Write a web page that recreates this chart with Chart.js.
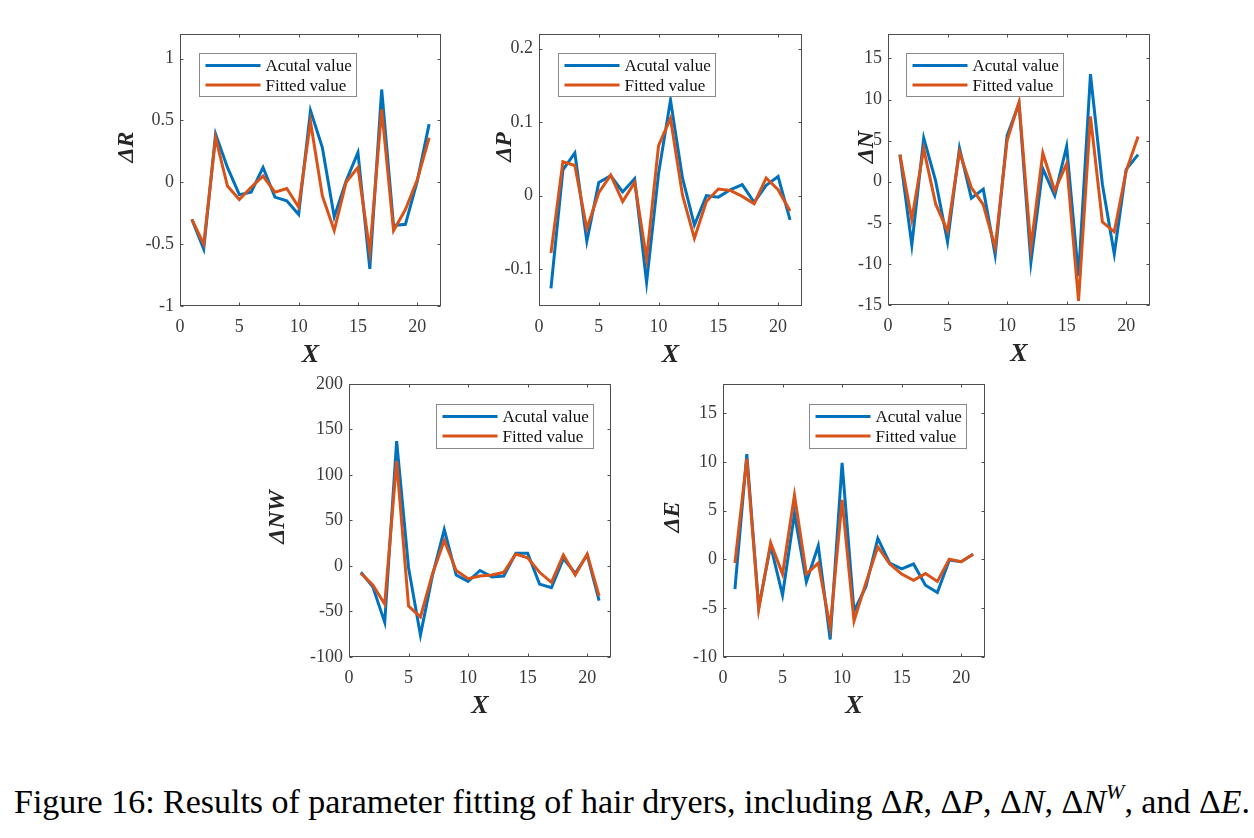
<!DOCTYPE html>
<html><head><meta charset="utf-8">
<script src="https://cdn.jsdelivr.net/npm/chart.js@4.4.1/dist/chart.umd.min.js"></script>
<style>
html,body{margin:0;padding:0;background:#fff;width:1254px;height:838px;overflow:hidden;position:relative}
canvas{position:absolute}
#cap{position:absolute;left:14px;top:783px;font-family:"Liberation Serif","Times New Roman",serif;font-size:34px;white-space:nowrap;transform-origin:0 0;color:#000}
#cap i{font-style:italic}
#cap sup{font-size:22px;line-height:0;vertical-align:14px}
</style></head><body>
<div id="cap">Figure 16: Results of parameter fitting of hair dryers, including Δ<i>R</i>, Δ<i>P</i>, Δ<i>N</i>, Δ<i>N</i><sup><i>W</i></sup>, and Δ<i>E</i>.</div>
<script>
// ---- data ----
const xValues = [1,2,3,4,5,6,7,8,9,10,11,12,13,14,15,16,17,18,19,20,21];
const xTicks = [0,5,10,15,20];
const seriesNames = ['Acutal value','Fitted value'];

const rActual = [-0.30,-0.54,0.39,0.12,-0.10,-0.08,0.12,-0.12,-0.15,-0.26,0.58,0.28,-0.28,0.01,0.24,-0.70,0.75,-0.35,-0.34,0.01,0.47];
const rFitted = [-0.30,-0.50,0.36,-0.03,-0.14,-0.04,0.05,-0.08,-0.05,-0.20,0.49,-0.11,-0.39,0.00,0.12,-0.56,0.59,-0.39,-0.22,0.02,0.36];
const rTicks = [-1,-0.5,0,0.5,1];

const pActual = [-0.126,0.035,0.058,-0.062,0.018,0.027,0.005,0.023,-0.118,0.030,0.130,0.024,-0.040,0.000,-0.002,0.008,0.015,-0.009,0.014,0.026,-0.033];
const pFitted = [-0.078,0.046,0.041,-0.045,0.004,0.028,-0.008,0.018,-0.086,0.068,0.105,0.001,-0.058,-0.008,0.009,0.007,-0.001,-0.011,0.024,0.008,-0.021];
const pTicks = [-0.1,0,0.1,0.2];

const nActual = [3.3,-7.7,5.3,0.1,-7.3,4.1,-2.0,-0.9,-8.9,5.6,9.5,-9.8,1.6,-1.7,4.3,-11.5,13.1,-0.3,-8.8,1.5,3.3];
const nFitted = [3.3,-4.6,4.0,-2.7,-6.0,3.6,-0.7,-2.8,-8.0,5.0,9.7,-8.0,3.5,-1.1,2.2,-14.5,7.95,-4.9,-6.1,1.3,5.5];
const nTicks = [-15,-10,-5,0,5,10,15];

const nwActual = [-7,-23,-62,137,-2,-76,-11,40,-10,-17,-5,-12,-11,14,14,-20,-24,8,-8,12,-38];
const nwFitted = [-8,-21,-42,115,-44,-56,-9,28,-5,-14,-11,-10,-7,13,9,-7,-18,12,-10,13,-33];
const nwTicks = [-100,-50,0,50,100,150,200];

const eActual = [-3.05,10.8,-4.9,1.4,-3.65,4.7,-2.3,1.4,-8.2,9.9,-5.3,-2.8,2.15,-0.37,-0.97,-0.47,-2.65,-3.4,-0.07,-0.23,0.54];
const eFitted = [-0.37,10.3,-5.1,1.7,-1.5,6.6,-1.5,-0.37,-6.95,6.1,-6.3,-2.4,1.3,-0.47,-1.5,-2.15,-1.45,-2.25,0.03,-0.23,0.54];
const eTicks = [-10,-5,0,5,10,15];

const colorActual = '#0072BD';
const colorFitted = '#D95319';

// ---- layout (pixel geometry, not data) ----
const panels = [
  {title:'ΔR',  a:rActual,  f:rFitted,  ticks:rTicks,  ymin:-1,    ymax:1.2,  L:180, T:27,  R:441,  B:306, tx:127, ty:147, lg:{x:19, y:19, w:157, h:43}},
  {title:'ΔP',  a:pActual,  f:pFitted,  ticks:pTicks,  ymin:-0.15, ymax:0.22, L:539, T:27,  R:802,  B:306, tx:505, ty:147, lg:{x:19, y:19, w:157, h:43}},
  {title:'ΔN',  a:nActual,  f:nFitted,  ticks:nTicks,  ymin:-15,   ymax:18,   L:888, T:27,  R:1150, B:305, tx:867, ty:147, lg:{x:18, y:19, w:157, h:43}},
  {title:'ΔNW', a:nwActual, f:nwFitted, ticks:nwTicks, ymin:-100,  ymax:200,  L:349, T:377, R:611,  B:657, tx:278, ty:517, lg:{x:87, y:20, w:157, h:44}},
  {title:'ΔE',  a:eActual,  f:eFitted,  ticks:eTicks,  ymin:-10,   ymax:18,   L:723, T:377, R:985,  B:657, tx:673, ty:517, lg:{x:86, y:20, w:157, h:44}}
];

const SERIF = '"Liberation Serif","Times New Roman",serif';
const TITLE_X = 26, PADT = 10, PADR = 10, XAXH = 62, CANVAS_LPAD = 30;
const tickFont = {family:SERIF, size:18};
const tickColor = '#3a3a3a';

const boxPlugin = {
  id:'mbox',
  afterDatasetsDraw(chart, args, opts){
    const ctx = chart.ctx, a = chart.chartArea;
    const xs = chart.scales.x, ys = chart.scales.y;
    ctx.save();
    ctx.strokeStyle = '#4d4d4d';
    ctx.lineWidth = 1;
    const l = Math.round(a.left)+0.5, r = Math.round(a.right)-0.5, t = Math.round(a.top)+0.5, b = Math.round(a.bottom)-0.5;
    ctx.strokeRect(l, t, r-l, b-t);
    ctx.beginPath();
    const tl = 3;
    xs.ticks.forEach(tk => {
      const px = Math.round(xs.getPixelForValue(tk.value))+0.5;
      ctx.moveTo(px, b); ctx.lineTo(px, b-tl);
      ctx.moveTo(px, t); ctx.lineTo(px, t+tl);
    });
    ys.ticks.forEach(tk => {
      const py = Math.round(ys.getPixelForValue(tk.value))+0.5;
      ctx.moveTo(l, py); ctx.lineTo(l+tl, py);
      ctx.moveTo(r, py); ctx.lineTo(r-tl, py);
    });
    ctx.stroke();
    // y-axis title (rotated)
    if (opts.ytitle) {
      ctx.save();
      ctx.translate(opts.ytitle.x, opts.ytitle.y);
      ctx.rotate(-Math.PI/2);
      ctx.font = 'italic bold 24px ' + SERIF;
      ctx.fillStyle = '#262626';
      ctx.textAlign = 'center';
      ctx.textBaseline = 'middle';
      ctx.fillText(opts.ytitle.text, 0, 0);
      ctx.restore();
    }
    // legend
    const lg = opts.box;
    if (lg) {
      const bx = Math.round(a.left + lg.x)+0.5, by = Math.round(a.top + lg.y)+0.5;
      ctx.fillStyle = '#fff';
      ctx.fillRect(bx, by, lg.w, lg.h);
      ctx.strokeStyle = '#8a8a8a';
      ctx.lineWidth = 1;
      ctx.strokeRect(bx, by, lg.w, lg.h);
      ctx.font = '17px ' + SERIF;
      ctx.textBaseline = 'middle';
      ctx.textAlign = 'left';
      chart.data.datasets.forEach((ds, i) => {
        const yy = by + 12 + i*19.6;
        ctx.strokeStyle = ds.borderColor;
        ctx.lineWidth = 3;
        ctx.beginPath();
        ctx.moveTo(bx+6, yy); ctx.lineTo(bx+61, yy);
        ctx.stroke();
        ctx.fillStyle = '#111';
        ctx.fillText(ds.label, bx+66, yy+1);
      });
    }
    ctx.restore();
  }
};

panels.forEach((p) => {
  const cLeft = p.tx - CANVAS_LPAD;
  const yW = p.L - cLeft;
  const cTop = p.T - PADT;
  const W = yW + (p.R - p.L) + PADR;
  const H = PADT + (p.B - p.T) + XAXH;
  const cv = document.createElement('canvas');
  cv.width = W; cv.height = H;
  cv.style.left = cLeft + 'px'; cv.style.top = cTop + 'px';
  cv.style.width = W + 'px'; cv.style.height = H + 'px';
  document.body.appendChild(cv);
  const yTicks = p.ticks;
  new Chart(cv, {
    type:'line',
    data:{
      datasets:[
        {label:seriesNames[0], data:xValues.map((x,i)=>({x:x, y:p.a[i]})), borderColor:colorActual, backgroundColor:colorActual, borderWidth:3, pointRadius:0, tension:0, order:2},
        {label:seriesNames[1], data:xValues.map((x,i)=>({x:x, y:p.f[i]})), borderColor:colorFitted, backgroundColor:colorFitted, borderWidth:3, pointRadius:0, tension:0, order:1}
      ]
    },
    options:{
      responsive:false, animation:false, devicePixelRatio:1,
      layout:{padding:{top:PADT, right:PADR, left:0, bottom:0}},
      plugins:{legend:{display:false}, tooltip:{enabled:false},
               mbox:{box:p.lg, ytitle:{text:p.title, x:CANVAS_LPAD, y:p.ty - cTop}}},
      scales:{
        x:{type:'linear', min:0, max:22,
           afterBuildTicks:s=>{s.ticks = xTicks.map(v=>({value:v}));},
           afterFit:s=>{s.height = XAXH;},
           grid:{display:false, drawTicks:false}, border:{display:false},
           ticks:{font:tickFont, color:tickColor, padding:10, maxRotation:0, autoSkip:false, callback:v=>String(v)},
           title:{display:true, text:'X', color:'#262626', padding:0, font:{family:SERIF, size:TITLE_X, weight:'bold', style:'italic', lineHeight:1}}},
        y:{type:'linear', min:p.ymin, max:p.ymax,
           afterBuildTicks:s=>{s.ticks = yTicks.map(v=>({value:v}));},
           afterFit:s=>{s.width = yW;},
           grid:{display:false, drawTicks:false}, border:{display:false},
           ticks:{font:tickFont, color:tickColor, padding:6, autoSkip:false, callback:v=>String(v)},
           title:{display:false}}
      }
    },
    plugins:[boxPlugin]
  });
});

// fit caption width to the reference span
const cap = document.getElementById('cap');
const w = cap.getBoundingClientRect().width;
cap.style.transform = 'scaleX(' + (1236 / w) + ')';
</script>
</body></html>
